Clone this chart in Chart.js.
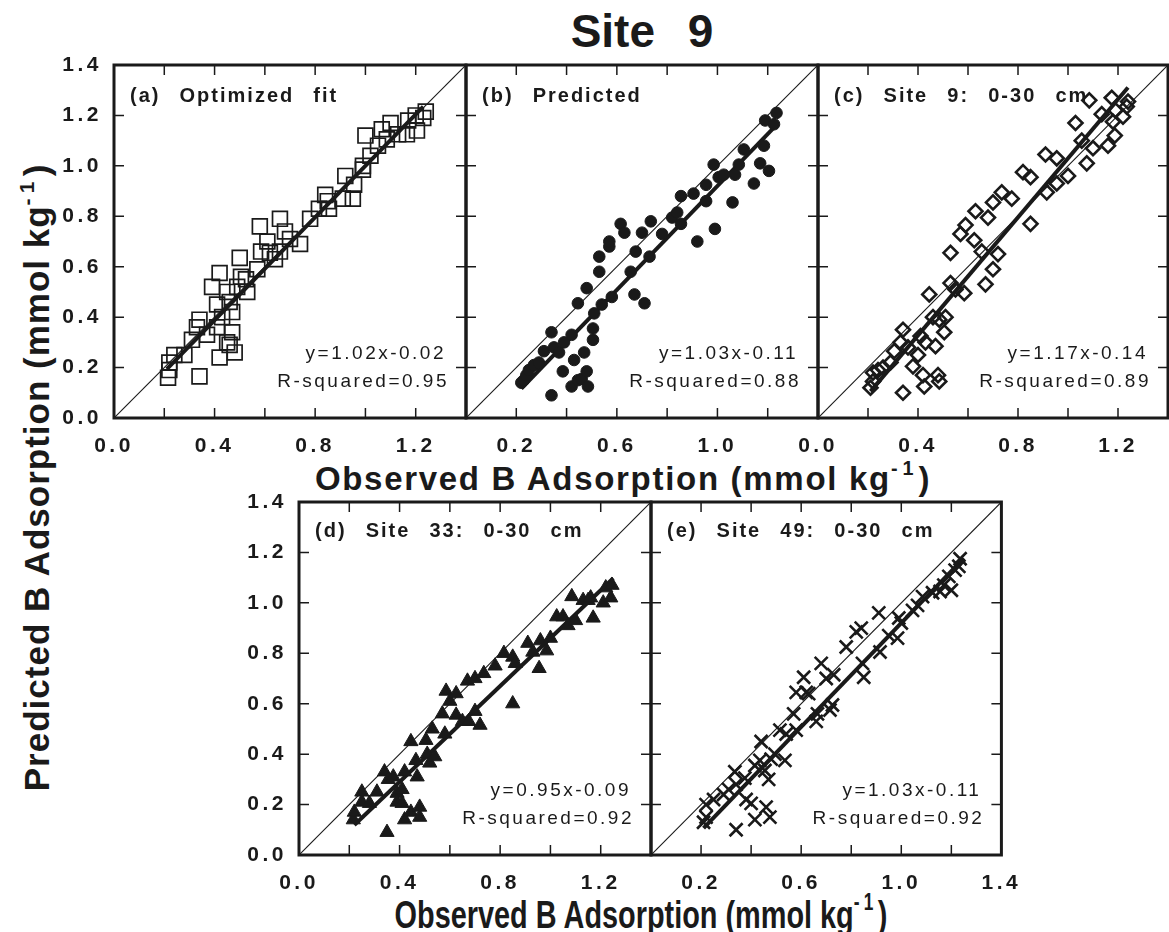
<!DOCTYPE html>
<html>
<head>
<meta charset="utf-8">
<title>Site 9</title>
<script src="https://cdn.jsdelivr.net/npm/chart.js@4.4.1/dist/chart.umd.min.js"></script>
<style>
  body { margin: 0; background: #fff; }
  #page { position: relative; width: 1169px; height: 932px; overflow: hidden; font-family: "Liberation Sans", Arial, sans-serif; color: #1a1a1a; }
  #page canvas { position: absolute; }
  .txt { position: absolute; font-weight: bold; white-space: nowrap; line-height: 1; text-align: center; }
  .txt sup { font-size: 0.6em; vertical-align: 0.75em; letter-spacing: 0.25em; }
  #title { left: 442px; width: 400px; top: 8px; font-size: 46px; word-spacing: 20px; }
  #xTitleTop { left: 223px; width: 800px; top: 459px; font-size: 33px; letter-spacing: 1.7px; }
  #xTitleBottom { left: 241px; width: 800px; top: 891px; font-size: 39px; transform: scaleX(0.74); }
  #yTitle { left: -365px; width: 800px; top: 458px; font-size: 35px; letter-spacing: 1px; transform: rotate(-90deg); }
</style>
</head>
<body>
<div id="page">
  <div class="txt" id="title">Site 9</div>
  <div class="txt" id="xTitleTop">Observed B Adsorption (mmol kg<sup>-1</sup>)</div>
  <div class="txt" id="xTitleBottom">Observed B Adsorption (mmol kg<sup>-1</sup>)</div>
  <div class="txt" id="yTitle">Predicted B Adsorption (mmol kg<sup>-1</sup>)</div>
  <canvas id="pa"></canvas>
  <canvas id="pb"></canvas>
  <canvas id="pc"></canvas>
  <canvas id="pd"></canvas>
  <canvas id="pe"></canvas>
</div>
<script>
const obsA = [0.215, 0.22, 0.22, 0.24, 0.28, 0.34, 0.31, 0.34, 0.33, 0.37, 0.41, 0.42, 0.39, 0.42, 0.41, 0.43, 0.45, 0.45, 0.46, 0.47, 0.48, 0.47, 0.46, 0.50, 0.505, 0.49, 0.525, 0.53, 0.57, 0.58, 0.585, 0.61, 0.62, 0.64, 0.66, 0.68, 0.66, 0.70, 0.74, 0.78, 0.815, 0.84, 0.855, 0.85, 0.91, 0.92, 0.95, 0.955, 0.99, 0.99, 1.0, 1.02, 1.05, 1.065, 1.10, 1.085, 1.13, 1.165, 1.17, 1.205, 1.20, 1.23, 1.24];
const predA = [0.16, 0.19, 0.22, 0.25, 0.25, 0.165, 0.31, 0.39, 0.36, 0.33, 0.36, 0.24, 0.52, 0.575, 0.45, 0.40, 0.50, 0.30, 0.29, 0.34, 0.26, 0.42, 0.46, 0.635, 0.56, 0.52, 0.55, 0.50, 0.59, 0.76, 0.66, 0.70, 0.655, 0.63, 0.79, 0.74, 0.66, 0.71, 0.69, 0.79, 0.83, 0.885, 0.83, 0.86, 0.87, 0.96, 0.87, 0.925, 0.985, 1.0, 1.12, 1.04, 1.08, 1.145, 1.17, 1.105, 1.125, 1.125, 1.18, 1.14, 1.20, 1.19, 1.215];

const obsB = [0.22, 0.23, 0.24, 0.25, 0.27, 0.29, 0.31, 0.34, 0.34, 0.35, 0.37, 0.385, 0.39, 0.42, 0.42, 0.43, 0.445, 0.445, 0.46, 0.47, 0.48, 0.48, 0.485, 0.505, 0.505, 0.51, 0.53, 0.53, 0.54, 0.57, 0.57, 0.58, 0.615, 0.63, 0.655, 0.67, 0.675, 0.70, 0.71, 0.73, 0.735, 0.78, 0.82, 0.84, 0.855, 0.855, 0.905, 0.92, 0.955, 0.955, 0.985, 0.99, 1.005, 1.025, 1.06, 1.07, 1.085, 1.105, 1.145, 1.17, 1.185, 1.19, 1.205, 1.225, 1.235];
const predB = [0.14, 0.15, 0.17, 0.19, 0.21, 0.22, 0.265, 0.09, 0.34, 0.28, 0.26, 0.185, 0.30, 0.125, 0.33, 0.23, 0.455, 0.15, 0.155, 0.26, 0.515, 0.185, 0.125, 0.355, 0.31, 0.415, 0.64, 0.58, 0.45, 0.68, 0.70, 0.48, 0.77, 0.735, 0.58, 0.49, 0.66, 0.735, 0.455, 0.64, 0.78, 0.73, 0.795, 0.815, 0.77, 0.88, 0.89, 0.70, 0.925, 0.86, 1.005, 0.75, 0.955, 0.965, 0.855, 0.965, 1.005, 1.065, 0.93, 1.01, 1.08, 1.18, 0.98, 1.165, 1.21];

const obsC = [0.21, 0.22, 0.22, 0.24, 0.26, 0.29, 0.305, 0.33, 0.34, 0.34, 0.36, 0.38, 0.40, 0.41, 0.42, 0.425, 0.43, 0.445, 0.46, 0.47, 0.48, 0.485, 0.485, 0.505, 0.51, 0.53, 0.53, 0.55, 0.57, 0.585, 0.59, 0.625, 0.63, 0.655, 0.67, 0.68, 0.70, 0.70, 0.72, 0.735, 0.775, 0.82, 0.85, 0.85, 0.91, 0.915, 0.955, 0.955, 1.0, 1.03, 1.055, 1.075, 1.10, 1.085, 1.135, 1.16, 1.175, 1.18, 1.187, 1.19, 1.22, 1.235, 1.24];
const predC = [0.12, 0.145, 0.18, 0.19, 0.20, 0.22, 0.265, 0.30, 0.35, 0.10, 0.28, 0.205, 0.25, 0.325, 0.17, 0.125, 0.30, 0.49, 0.40, 0.285, 0.17, 0.145, 0.39, 0.34, 0.40, 0.655, 0.535, 0.51, 0.73, 0.495, 0.765, 0.705, 0.82, 0.66, 0.53, 0.795, 0.855, 0.59, 0.65, 0.895, 0.87, 0.975, 0.955, 0.77, 1.045, 0.895, 1.03, 0.93, 0.96, 1.17, 1.10, 1.01, 1.07, 1.26, 1.205, 1.08, 1.27, 1.175, 1.12, 1.22, 1.195, 1.235, 1.255];

const obsD = [0.216, 0.22, 0.25, 0.25, 0.28, 0.31, 0.34, 0.35, 0.355, 0.375, 0.39, 0.39, 0.41, 0.41, 0.42, 0.42, 0.445, 0.445, 0.465, 0.47, 0.48, 0.48, 0.505, 0.51, 0.52, 0.53, 0.54, 0.57, 0.58, 0.585, 0.60, 0.625, 0.625, 0.65, 0.67, 0.675, 0.70, 0.70, 0.72, 0.735, 0.78, 0.815, 0.85, 0.85, 0.86, 0.91, 0.93, 0.955, 0.96, 0.985, 1.0, 1.025, 1.05, 1.07, 1.085, 1.10, 1.13, 1.15, 1.16, 1.17, 1.21, 1.22, 1.24, 1.245];
const predD = [0.14, 0.17, 0.21, 0.25, 0.205, 0.25, 0.33, 0.09, 0.30, 0.31, 0.245, 0.21, 0.205, 0.26, 0.14, 0.33, 0.17, 0.45, 0.375, 0.31, 0.15, 0.19, 0.455, 0.40, 0.365, 0.50, 0.39, 0.56, 0.48, 0.65, 0.61, 0.64, 0.555, 0.53, 0.69, 0.53, 0.70, 0.57, 0.515, 0.72, 0.75, 0.80, 0.60, 0.785, 0.76, 0.84, 0.805, 0.74, 0.85, 0.81, 0.86, 0.945, 0.945, 0.91, 1.025, 0.93, 1.01, 1.01, 1.02, 0.94, 1.0, 1.06, 1.02, 1.07];

const obsE = [0.21, 0.22, 0.22, 0.25, 0.29, 0.31, 0.335, 0.34, 0.34, 0.375, 0.38, 0.40, 0.415, 0.415, 0.435, 0.44, 0.455, 0.46, 0.47, 0.475, 0.48, 0.495, 0.515, 0.535, 0.54, 0.57, 0.58, 0.58, 0.61, 0.62, 0.63, 0.66, 0.665, 0.68, 0.70, 0.715, 0.725, 0.73, 0.78, 0.82, 0.84, 0.845, 0.85, 0.91, 0.915, 0.95, 0.985, 0.99, 1.0, 1.045, 1.065, 1.085, 1.125, 1.155, 1.17, 1.19, 1.20, 1.215, 1.23, 1.235];
const predE = [0.13, 0.15, 0.20, 0.22, 0.24, 0.26, 0.33, 0.10, 0.28, 0.305, 0.22, 0.205, 0.355, 0.14, 0.375, 0.45, 0.335, 0.19, 0.30, 0.15, 0.38, 0.40, 0.495, 0.375, 0.48, 0.56, 0.495, 0.645, 0.705, 0.645, 0.64, 0.53, 0.56, 0.76, 0.70, 0.575, 0.595, 0.715, 0.825, 0.885, 0.90, 0.76, 0.705, 0.96, 0.805, 0.87, 0.86, 0.94, 0.92, 0.97, 0.99, 1.025, 1.04, 1.045, 1.07, 1.105, 1.05, 1.13, 1.145, 1.175];

// regression lines as printed in each panel
const slopes = [1.02, 1.03, 1.17, 0.95, 1.03];
const intercepts = [-0.02, -0.11, -0.14, -0.09, -0.11];
const rSquared = [0.95, 0.88, 0.89, 0.92, 0.92];
const fitFrom = [0.21, 0.22, 0.21, 0.22, 0.21];
const fitTo = [1.23, 1.24, 1.24, 1.25, 1.25];

const panelNames = ['(a)  Optimized  fit', '(b)  Predicted', '(c)  Site  9:  0-30  cm', '(d)  Site  33:  0-30  cm', '(e)  Site  49:  0-30  cm'];
const xTickLabels = [
  ['0.0', '0.4', '0.8', '1.2'],
  ['0.2', '0.6', '1.0'],
  ['0.0', '0.4', '0.8', '1.2'],
  ['0.0', '0.4', '0.8', '1.2'],
  ['0.2', '0.6', '1.0', '1.4']
];
const yTickLabels = ['0.0', '0.2', '0.4', '0.6', '0.8', '1.0', '1.2', '1.4'];
const axisMin = 0, axisMax = 1.4, axisStep = 0.2;

const ink = '#1a1a1a';
const FONT = '"Liberation Sans", Arial, sans-serif';

// where each plot box sits on the page
const panels = [
  { id: 'pa', x: 114, y: 65,  w: 352, h: 353, obs: obsA, pred: predA, yLabels: true,  style: 'rect',     r: 10.5, bw: 1.7, fill: false },
  { id: 'pb', x: 466, y: 65,  w: 352, h: 353, obs: obsB, pred: predB, yLabels: false, style: 'circle',   r: 5.8,  bw: 1,   fill: true },
  { id: 'pc', x: 818, y: 65,  w: 350, h: 353, obs: obsC, pred: predC, yLabels: false, style: 'rectRot',  r: 7,    bw: 2.6, fill: false },
  { id: 'pd', x: 299, y: 502, w: 352, h: 353, obs: obsD, pred: predD, yLabels: true,  style: 'triangle', r: 8.2,  bw: 1,   fill: true },
  { id: 'pe', x: 651, y: 502, w: 351, h: 353, obs: obsE, pred: predE, yLabels: false, style: 'crossRot', r: 9.2,  bw: 2.6, fill: false }
];

// room round each plot box; top must exceed half a y label + its padding
const PAD_L = 70, PAD_T = 32, PAD_R = 30, PAD_B = 60;

const label = v => (Math.round(v * 10) / 10).toFixed(1);

// frame, inward ticks on all four sides, panel caption and fit text
const framePlugin = {
  id: 'frame',
  beforeDraw(chart) {
    chart.ctx.letterSpacing = '3.5px';
  },
  afterDatasetsDraw(chart, args, opts) {
    const { ctx, chartArea: a, scales: { x, y } } = chart;
    ctx.save();
    ctx.strokeStyle = ink;
    ctx.fillStyle = ink;
    ctx.lineWidth = 1.5;
    ctx.beginPath();
    x.ticks.forEach(t => {
      if (t.value <= axisMin + 1e-6 || t.value >= axisMax - 1e-6) return;
      const px = x.getPixelForValue(t.value);
      ctx.moveTo(px, a.top); ctx.lineTo(px, a.top + 10);
      ctx.moveTo(px, a.bottom); ctx.lineTo(px, a.bottom - 10);
    });
    y.ticks.forEach(t => {
      if (t.value <= axisMin + 1e-6 || t.value >= axisMax - 1e-6) return;
      const py = y.getPixelForValue(t.value);
      ctx.moveTo(a.left, py); ctx.lineTo(a.left + 10, py);
      ctx.moveTo(a.right, py); ctx.lineTo(a.right - 10, py);
    });
    ctx.stroke();
    ctx.lineWidth = 3;
    ctx.strokeRect(a.left, a.top, a.right - a.left, a.bottom - a.top);

    ctx.font = 'bold 20px ' + FONT;
    ctx.letterSpacing = '2px';
    ctx.wordSpacing = '2px';
    ctx.textAlign = 'left';
    ctx.textBaseline = 'alphabetic';
    ctx.fillText(opts.name, a.left + 16, a.top + opts.nameDy);

    ctx.font = '19px ' + FONT;
    ctx.letterSpacing = '2.5px';
    ctx.wordSpacing = '0px';
    ctx.textAlign = 'right';
    ctx.fillText(opts.eq, a.right - 20, a.bottom - 59);
    ctx.fillText(opts.r2, a.right - 17, a.bottom - 31);
    ctx.restore();
  }
};

panels.forEach((p, i) => {
  const canvas = document.getElementById(p.id);
  canvas.width = PAD_L + p.w + PAD_R;
  canvas.height = PAD_T + p.h + PAD_B;
  canvas.style.left = (p.x - PAD_L) + 'px';
  canvas.style.top = (p.y - PAD_T) + 'px';

  const fitLine = [fitFrom[i], fitTo[i]].map(v => ({ x: v, y: slopes[i] * v + intercepts[i] }));
  const sign = intercepts[i] < 0 ? '-' : '+';
  const tickFont = { family: FONT, size: 21, weight: 'bold' };

  new Chart(canvas, {
    type: 'scatter',
    data: {
      datasets: [
        {
          data: p.obs.map((v, k) => ({ x: v, y: p.pred[k] })),
          pointStyle: p.style,
          pointRadius: p.r,
          pointBorderWidth: p.bw,
          pointBorderColor: ink,
          pointBackgroundColor: p.fill ? ink : 'rgba(0,0,0,0)'
        },
        {
          data: fitLine,
          showLine: true,
          borderColor: ink,
          borderWidth: 4,
          pointRadius: 0
        },
        {
          data: [{ x: axisMin, y: axisMin }, { x: axisMax, y: axisMax }],
          showLine: true,
          borderColor: ink,
          borderWidth: 1.1,
          pointRadius: 0
        }
      ]
    },
    options: {
      responsive: false,
      animation: false,
      events: [],
      layout: { padding: { top: PAD_T, right: PAD_R, left: 0, bottom: 0 } },
      plugins: {
        legend: { display: false },
        tooltip: { enabled: false },
        frame: {
          name: panelNames[i],
          nameDy: p.y < 300 ? 37 : 35,
          eq: 'y=' + slopes[i].toFixed(2) + 'x' + sign + Math.abs(intercepts[i]).toFixed(2),
          r2: 'R-squared=' + rSquared[i].toFixed(2)
        }
      },
      scales: {
        x: {
          type: 'linear',
          min: axisMin,
          max: axisMax,
          grid: { display: false, drawTicks: false },
          border: { display: false },
          ticks: {
            stepSize: axisStep,
            autoSkip: false,
            maxRotation: 0,
            padding: 16,
            color: ink,
            font: tickFont,
            callback: v => xTickLabels[i].includes(label(v)) ? label(v) : ''
          },
          afterFit: s => { s.height = PAD_B; }
        },
        y: {
          type: 'linear',
          min: axisMin,
          max: axisMax,
          grid: { display: false, drawTicks: false },
          border: { display: false },
          ticks: {
            display: p.yLabels,
            stepSize: axisStep,
            autoSkip: false,
            padding: 12,
            color: ink,
            font: tickFont,
            callback: v => yTickLabels.includes(label(v)) ? label(v) : ''
          },
          afterFit: s => { s.width = PAD_L; }
        }
      }
    },
    plugins: [framePlugin]
  });
});
</script>
</body>
</html>
